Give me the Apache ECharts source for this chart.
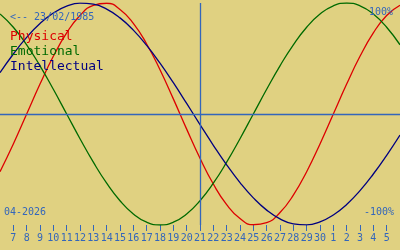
<!DOCTYPE html>
<html>
<head>
<meta charset="utf-8">
<script src="https://cdn.jsdelivr.net/npm/echarts@6/dist/echarts.min.js"></script>
<style>
html,body{margin:0;padding:0;background:#e0d181;}
#c{width:400px;height:250px;}
</style>
</head>
<body>
<div id="c"></div>
<script>
// Day labels: 6 April 2026 .. 6 May 2026
var days = ['6','7','8','9','10','11','12','13','14','15','16','17','18','19','20','21','22','23','24','25','26','27','28','29','30','1','2','3','4','5','6'];
var todayIndex = 15; // 21 April
var birthLabel = '<-- 23/02/1985';
var monthLabel = '04-2026';
var topLabel = '100%';
var bottomLabel = '-100%';
var seriesNames = ['Physical', 'Emotional', 'Intellectual'];

var physical = [-0.5196,-0.2698,0,0.2698,0.5196,0.7308,0.8879,0.9791,0.9977,0.9423,0.8170,0.6310,0.3984,0.1362,-0.1362,-0.3984,-0.6310,-0.8170,-0.9423,-0.9977,-0.9791,-0.8879,-0.7308,-0.5196,-0.2698,0,0.2698,0.5196,0.7308,0.8879,0.9791];
var emotional = [0.9010,0.7818,0.6235,0.4339,0.2225,0,-0.2225,-0.4339,-0.6235,-0.7818,-0.9010,-0.9749,-1,-0.9749,-0.9010,-0.7818,-0.6235,-0.4339,-0.2225,0,0.2225,0.4339,0.6235,0.7818,0.9010,0.9749,1,0.9749,0.9010,0.7818,0.6235];
var intellectual = [0.3717,0.5406,0.6901,0.8146,0.9096,0.9718,0.9989,0.9898,0.9450,0.8660,0.7557,0.6182,0.4582,0.2817,0.0951,-0.0951,-0.2817,-0.4582,-0.6182,-0.7557,-0.8660,-0.9450,-0.9898,-0.9989,-0.9718,-0.9096,-0.8146,-0.6901,-0.5406,-0.3717,-0.1893];

var BG = '#e0d181';
var AXIS = '#3366bb';
var COLORS = ['#dd0000', '#006a00', '#000080'];
var MONO = '"DejaVu Sans Mono", "Liberation Mono", monospace';

var chart = echarts.init(document.getElementById('c'), null, {renderer: 'canvas'});
var last = days.length - 1;
function inner(i){ return i > 0 && i < last; }

var option = {
  backgroundColor: BG,
  animation: false,
  grid: {left: 0, right: 0, top: 3, bottom: 25},
  xAxis: {
    type: 'category',
    data: days,
    boundaryGap: false,
    axisLine: {show: false, onZero: false},
    axisTick: {show: true, interval: inner, length: 6, lineStyle: {color: AXIS, width: 1}},
    axisLabel: {interval: inner, color: AXIS, fontFamily: MONO, fontSize: 10, margin: 8},
    splitLine: {show: false}
  },
  yAxis: {
    type: 'value', min: -1, max: 1, show: false,
    splitLine: {show: false}
  },
  series: [
    {
      name: seriesNames[0], type: 'line', data: physical, smooth: true, showSymbol: false,
      lineStyle: {color: COLORS[0], width: 1.3}, z: 3,
      markLine: {
        silent: true, symbol: 'none', label: {show: false},
        lineStyle: {color: AXIS, width: 1.3, type: 'solid'},
        data: [{xAxis: todayIndex}, {yAxis: 0}]
      }
    },
    {name: seriesNames[1], type: 'line', data: emotional, smooth: true, showSymbol: false, lineStyle: {color: COLORS[1], width: 1.3}, z: 3},
    {name: seriesNames[2], type: 'line', data: intellectual, smooth: true, showSymbol: false, lineStyle: {color: COLORS[2], width: 1.3}, z: 3}
  ],
  graphic: [
    {type: 'text', left: 10, top: 12, z: 10, style: {text: birthLabel, fill: AXIS, font: '10px ' + MONO}},
    {type: 'text', right: 7, top: 7, z: 10, style: {text: topLabel, fill: AXIS, font: '10px ' + MONO}},
    {type: 'text', right: 6, top: 207, z: 10, style: {text: bottomLabel, fill: AXIS, font: '10px ' + MONO}},
    {type: 'text', left: 4, top: 207, z: 10, style: {text: monthLabel, fill: AXIS, font: '10px ' + MONO}},
    {type: 'text', left: 10, top: 30, z: 10, style: {text: seriesNames[0], fill: COLORS[0], font: '13px ' + MONO}},
    {type: 'text', left: 10, top: 45, z: 10, style: {text: seriesNames[1], fill: COLORS[1], font: '13px ' + MONO}},
    {type: 'text', left: 10, top: 60, z: 10, style: {text: seriesNames[2], fill: COLORS[2], font: '13px ' + MONO}}
  ]
};
chart.setOption(option);
</script>
</body>
</html>
